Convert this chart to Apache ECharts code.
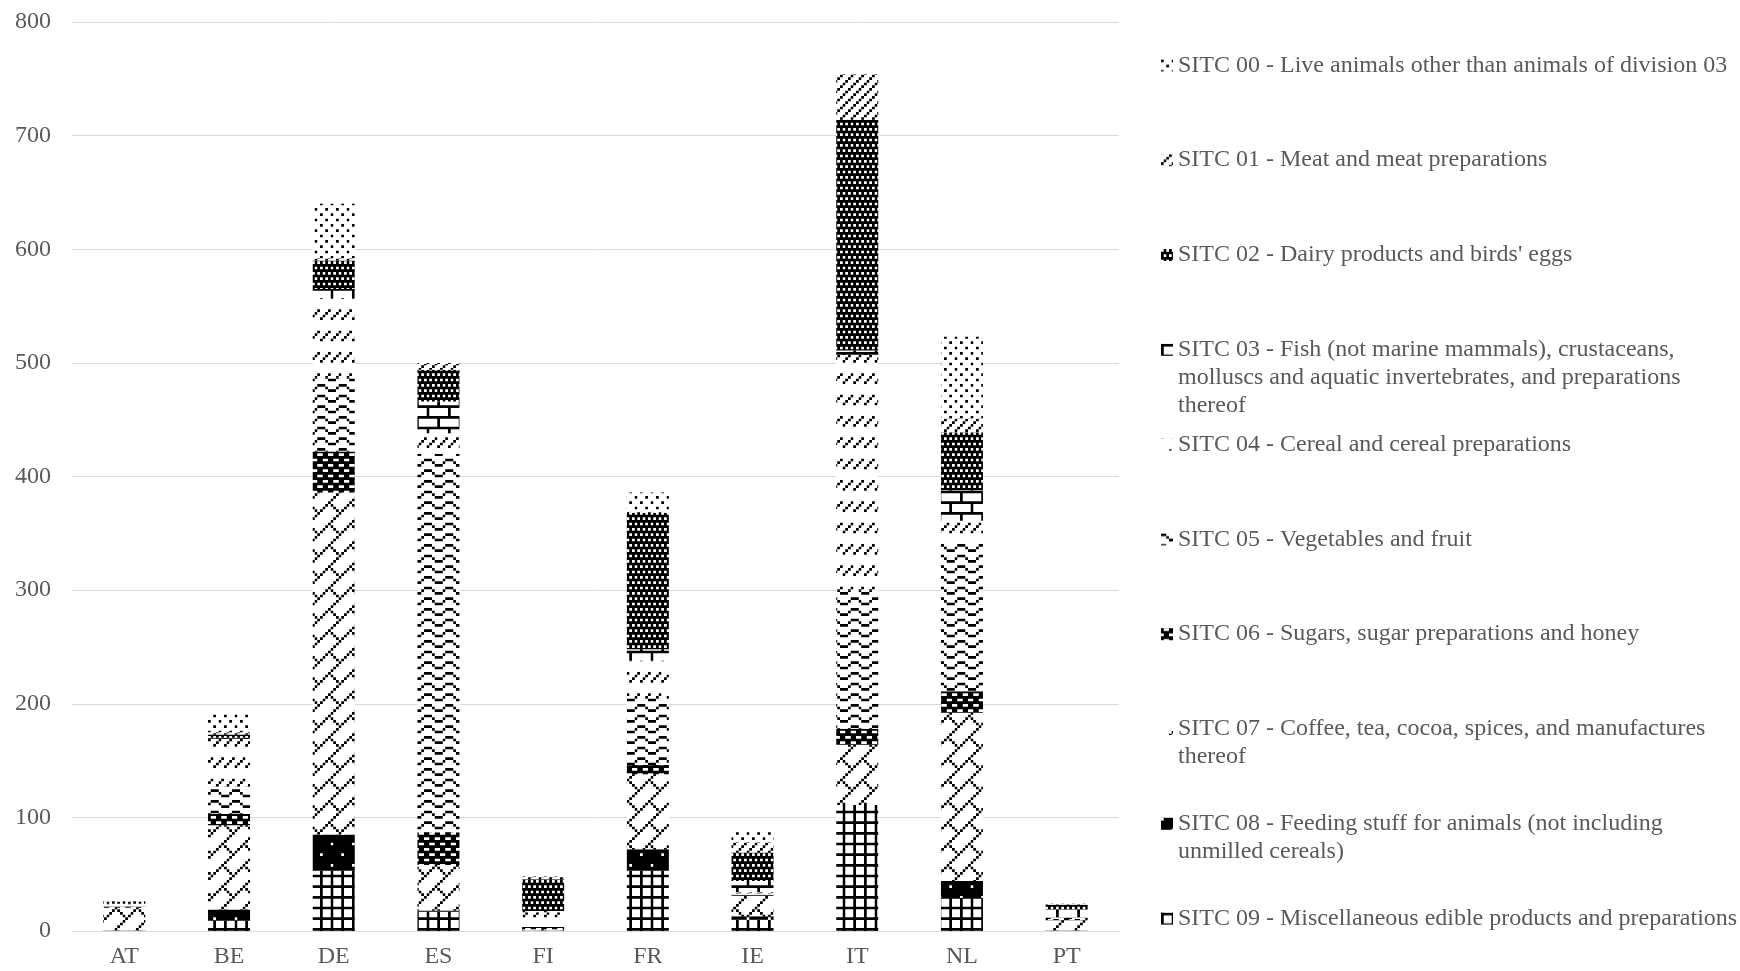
<!DOCTYPE html>
<html>
<head>
<meta charset="utf-8">
<script src="https://cdn.jsdelivr.net/npm/echarts@6/dist/echarts.min.js"></script>
<style>
  html, body { margin: 0; padding: 0; background: #fff; }
  #chart { width: 1740px; height: 971px; }
</style>
</head>
<body>
<div id="chart"></div>
<script>
// countries on the x axis
var countries = ['AT', 'BE', 'DE', 'ES', 'FI', 'FR', 'IE', 'IT', 'NL', 'PT'];

// legend labels, top to bottom (SITC 00 .. 09)
var sitcNames = [
  'SITC 00 - Live animals other than animals of division 03',
  'SITC 01 - Meat and meat preparations',
  "SITC 02 - Dairy products and birds' eggs",
  'SITC 03 - Fish (not marine mammals), crustaceans, molluscs and aquatic invertebrates, and preparations thereof',
  'SITC 04 - Cereal and cereal preparations',
  'SITC 05 - Vegetables and fruit',
  'SITC 06 - Sugars, sugar preparations and honey',
  'SITC 07 - Coffee, tea, cocoa, spices, and manufactures thereof',
  'SITC 08 - Feeding stuff for animals (not including unmilled cereals)',
  'SITC 09 - Miscellaneous edible products and preparations'
];
// how the legend text wraps in the picture
var sitcLines = [
  ['SITC 00 - Live animals other than animals of division 03'],
  ['SITC 01 - Meat and meat preparations'],
  ["SITC 02 - Dairy products and birds' eggs"],
  ['SITC 03 - Fish (not marine mammals), crustaceans,', 'molluscs and aquatic invertebrates, and preparations', 'thereof'],
  ['SITC 04 - Cereal and cereal preparations'],
  ['SITC 05 - Vegetables and fruit'],
  ['SITC 06 - Sugars, sugar preparations and honey'],
  ['SITC 07 - Coffee, tea, cocoa, spices, and manufactures', 'thereof'],
  ['SITC 08 - Feeding stuff for animals (not including', 'unmilled cereals)'],
  ['SITC 09 - Miscellaneous edible products and preparations']
];

// values per country (same order as countries)
var sitc00 = [0.5, 16, 48, 1, 0.5, 17, 9, 0, 72, 0.5];
var sitc01 = [0, 2, 2, 5, 2, 1, 9, 40, 12, 0.5];
var sitc02 = [2, 3, 25, 28, 28, 120, 25, 203, 51, 4];
var sitc03 = [0.5, 1, 8, 28, 1, 10, 10, 4, 27, 7];
var sitc04 = [0.5, 42, 70, 18, 13, 32, 1, 207, 19, 0.5];
var sitc05 = [1.5, 24, 65, 333, 0, 60, 1, 122, 131, 1];
var sitc06 = [1, 10, 36, 29, 2, 8, 1, 14, 19, 1];
var sitc07 = [20, 74, 301, 40, 1, 66, 18, 53, 148, 9];
var sitc08 = [0, 10, 32, 1, 0, 19, 3, 0, 15, 0];
var sitc09 = [0.5, 9, 53, 17, 0.5, 53, 10, 111, 29, 0.5];

var sitcValues = [sitc00, sitc01, sitc02, sitc03, sitc04, sitc05, sitc06, sitc07, sitc08, sitc09];

var yTicks = [0, 100, 200, 300, 400, 500, 600, 700, 800];

// 8x8 black/white fill patterns, one per SITC code (1 = black)
var bitmaps = [
  // 00 sparse dots
  ['10001000', '00000000', '00100010', '00000000', '10001000', '00000000', '00100010', '00000000'],
  // 01 upward diagonal
  ['00010001', '00100010', '01000100', '10001000', '00010001', '00100010', '01000100', '10001000'],
  // 02 dense dark
  ['01010101', '11111111', '10101010', '11111111', '01010101', '11111111', '10101010', '11111111'],
  // 03 horizontal brick
  ['11111111', '10000000', '10000000', '10000000', '11111111', '00001000', '00001000', '00001000'],
  // 04 dashed upward diagonal
  ['00000000', '00000000', '00000000', '00000000', '00010001', '00100010', '01000100', '10001000'],
  // 05 wave
  ['11000001', '00100010', '00011100', '00000000', '11000001', '00100010', '00011100', '00000000'],
  // 06 black with oval holes
  ['10011001', '11111111', '01100110', '11111111', '10011001', '11111111', '01100110', '11111111'],
  // 07 diagonal brick
  ['00000001', '00000010', '00000100', '00001000', '00010000', '00101000', '01000100', '10000010'],
  // 08 black with white dots
  ['01111111', '11111111', '11111111', '11111111', '11110111', '11111111', '11111111', '11111111'],
  // 09 small grid
  ['11111111', '10001000', '10001000', '10001000', '11111111', '10001000', '10001000', '10001000']
];

// draw a bitmap onto a canvas tile, each bitmap pixel ~2.67 px, with some smoothing
function makePattern(rows) {
  var size = 64;
  var s = size / 24;
  var c = document.createElement('canvas');
  c.width = size;
  c.height = size;
  var ctx = c.getContext('2d');
  var img = ctx.createImageData(size, size);
  for (var py = 0; py < size; py++) {
    for (var px = 0; px < size; px++) {
      var cov = 0;
      for (var sy = 0; sy < 4; sy++) {
        for (var sx = 0; sx < 4; sx++) {
          var bx = Math.floor((px + (sx + 0.5) / 4) / s) % 8;
          var by = Math.floor((py + (sy + 0.5) / 4) / s) % 8;
          if (rows[by].charAt(bx) === '1') cov++;
        }
      }
      var v = Math.round(255 - 255 * cov / 16);
      var k = (py * size + px) * 4;
      img.data[k] = v;
      img.data[k + 1] = v;
      img.data[k + 2] = v;
      img.data[k + 3] = 255;
    }
  }
  ctx.putImageData(img, 0, 0);
  return c;
}

var font = '"Liberation Serif", "Times New Roman", serif';
var grey = '#595959';

// stack from the bottom: SITC 09 first, SITC 00 last
var series = [];
for (var i = 9; i >= 0; i--) {
  series.push({
    name: sitcNames[i],
    type: 'bar',
    stack: 'total',
    barWidth: 42,
    data: sitcValues[i],
    itemStyle: { color: { image: makePattern(bitmaps[i]), repeat: 'repeat' } },
    emphasis: { disabled: true }
  });
}

// one legend per entry so the rows keep the even spacing of the picture
var lineH = 28;
var legends = sitcNames.map(function (name, i) {
  var lines = sitcLines[i];
  // blank lines in front keep the icon level with the first text line
  var pad = [];
  for (var j = 1; j < lines.length; j++) pad.push('');
  var text = pad.concat(lines).join('\n');
  var k = 2 * lines.length - 1;
  return {
    data: [name],
    orient: 'vertical',
    left: 1161,
    top: 65.4 + i * 94.8 - k * lineH / 2,
    padding: 0,
    icon: 'rect',
    itemWidth: 12,
    itemHeight: 12,
    selectedMode: false,
    formatter: function () { return text; },
    textStyle: { fontFamily: font, fontSize: 24, color: grey, lineHeight: lineH }
  };
});

var chart = echarts.init(document.getElementById('chart'));
chart.setOption({
  animation: false,
  backgroundColor: '#fff',
  grid: { left: 72, right: 621, top: 22, bottom: 40 },
  legend: legends,
  xAxis: {
    type: 'category',
    data: countries,
    axisLine: { lineStyle: { color: '#d9d9d9', width: 1 } },
    axisTick: { show: false },
    axisLabel: { fontFamily: font, fontSize: 24, color: grey, margin: 14 }
  },
  yAxis: {
    type: 'value',
    min: yTicks[0],
    max: yTicks[yTicks.length - 1],
    interval: 100,
    axisLine: { show: false },
    axisTick: { show: false },
    splitLine: { lineStyle: { color: '#d9d9d9', width: 1 } },
    axisLabel: { fontFamily: font, fontSize: 24, color: grey, margin: 21 }
  },
  series: series
});
</script>
</body>
</html>
